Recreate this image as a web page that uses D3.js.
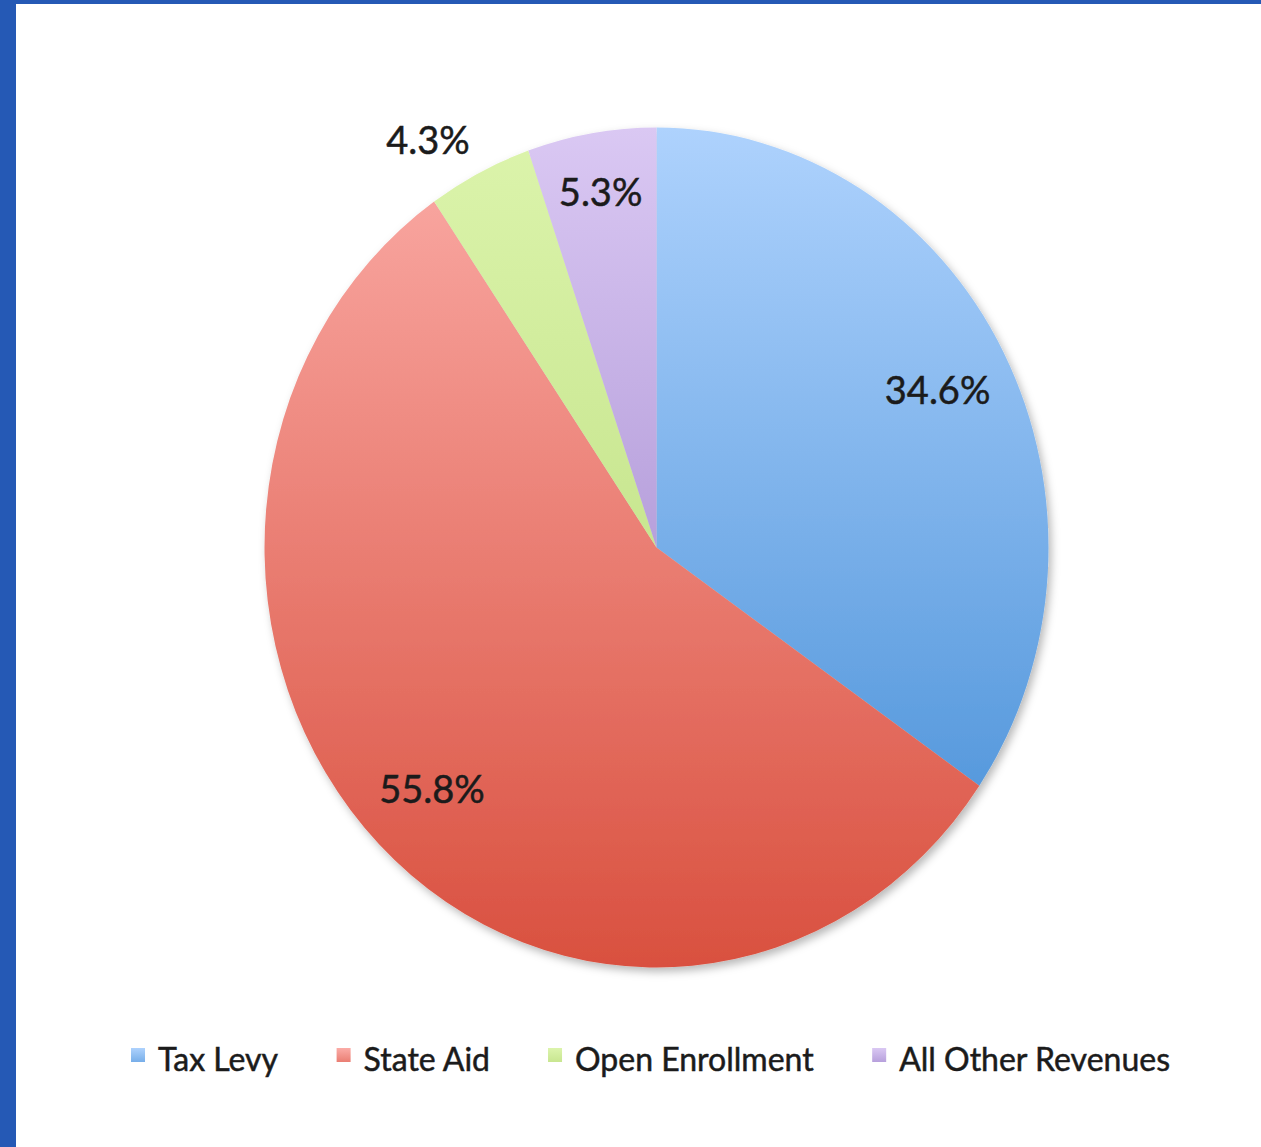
<!DOCTYPE html>
<html>
<head>
<meta charset="utf-8">
<script src="https://cdn.jsdelivr.net/npm/d3@7"></script>
<style>
  html, body { margin: 0; padding: 0; background: #fff; }
  #viscontainer { width: 1261px; height: 1147px; }
  text { font-family: Lato, "Open Sans", sans-serif; fill: #1b1b1b; stroke: #1b1b1b; stroke-width: 0.5; }
</style>
</head>
<body>
<div id="viscontainer"></div>
<script>
const categories = ["Tax Levy", "State Aid", "Open Enrollment", "All Other Revenues"];
const shares = [34.6, 55.8, 4.3, 5.3];
const labels = ["34.6%", "55.8%", "4.3%", "5.3%"];
const topColors = ["#aed2fd", "#fbaca7", "#dcf4ac", "#dac8f3"];
const bottomColors = ["#3f8ad4", "#d9503f", "#b4d874", "#9478c4"];

function makeVis() {
  const width = 1261;
  const height = 1147;
  const cx = 656.5;
  const cy = 547.5;
  const rx = 392;
  const ry = 420;

  const svg = d3.create("svg").attr("width", width).attr("height", height);
  viscontainer.append(svg.node());

  // page frame: blue strip on the left and top
  svg.append("rect").attr("x", 0).attr("y", 0).attr("width", width).attr("height", 4).attr("fill", "#2559b5");
  svg.append("rect").attr("x", 0).attr("y", 0).attr("width", 16).attr("height", height).attr("fill", "#2559b5");

  const defs = svg.append("defs");
  const shadow = defs.append("filter").attr("id", "shadow")
    .attr("x", "-10%").attr("y", "-10%").attr("width", "120%").attr("height", "120%");
  shadow.append("feDropShadow").attr("dx", 3).attr("dy", 4).attr("stdDeviation", 4)
    .attr("flood-color", "#000").attr("flood-opacity", 0.28);

  categories.forEach((c, i) => {
    const g = defs.append("linearGradient").attr("id", "grad" + i)
      .attr("gradientUnits", "userSpaceOnUse")
      .attr("x1", 0).attr("x2", 0).attr("y1", -rx).attr("y2", rx);
    g.append("stop").attr("offset", "0%").attr("stop-color", topColors[i]);
    g.append("stop").attr("offset", "100%").attr("stop-color", bottomColors[i]);

    const lg = defs.append("linearGradient").attr("id", "lgrad" + i)
      .attr("x1", 0).attr("x2", 0).attr("y1", 0).attr("y2", 1);
    lg.append("stop").attr("offset", "0%").attr("stop-color", topColors[i]);
    lg.append("stop").attr("offset", "100%").attr("stop-color", d3.interpolateRgb(topColors[i], bottomColors[i])(0.5));
  });

  const pie = d3.pie().sort(null).value((d) => d)(shares);
  const arc = d3.arc().innerRadius(0).outerRadius(rx);

  // pie is drawn as a circle then stretched vertically into the ellipse
  const pieG = svg.append("g")
    .attr("transform", `translate(${cx},${cy}) scale(1,${ry / rx})`)
    .attr("filter", "url(#shadow)");

  pieG.selectAll("path")
    .data(pie)
    .join("path")
    .attr("d", arc)
    .attr("fill", (d, i) => `url(#grad${i})`);

  // labels: tiny slice outside, others inside
  const mid = (d) => (d.startAngle + d.endAngle) / 2;
  const outside = (d) => d.value < 5;
  const labelRadius = (d) => {
    if (outside(d)) return 1.09;
    if (d.value < 10) return 0.86;
    return 0.81;
  };
  svg.selectAll("text.lbl")
    .data(pie)
    .join("text")
    .attr("class", "lbl")
    .attr("x", (d) => cx + Math.sin(mid(d)) * rx * labelRadius(d) + (outside(d) ? 6 : 0))
    .attr("y", (d) => cy - Math.cos(mid(d)) * ry * labelRadius(d))
    .attr("text-anchor", (d) => (outside(d) ? "end" : "middle"))
    .attr("dominant-baseline", "central")
    .attr("font-size", 38)
    .text((d, i) => labels[i]);

  // legend
  const legend = svg.append("g");
  const items = legend.selectAll("g")
    .data(categories)
    .join("g");
  items.append("rect")
    .attr("width", 14).attr("height", 14)
    .attr("y", 1048)
    .attr("fill", (d, i) => `url(#lgrad${i})`);
  items.append("text")
    .attr("x", 27)
    .attr("y", 1071)
    .attr("font-size", 32)
    .text((d) => d);

  let x = 0;
  const gap = 58;
  items.each(function () {
    const w = this.getBBox().width;
    d3.select(this).attr("transform", `translate(${x},0)`);
    x += w + gap;
  });
  const total = x - gap;
  legend.attr("transform", `translate(${650.5 - total / 2},0)`);
}

makeVis();
</script>
</body>
</html>
